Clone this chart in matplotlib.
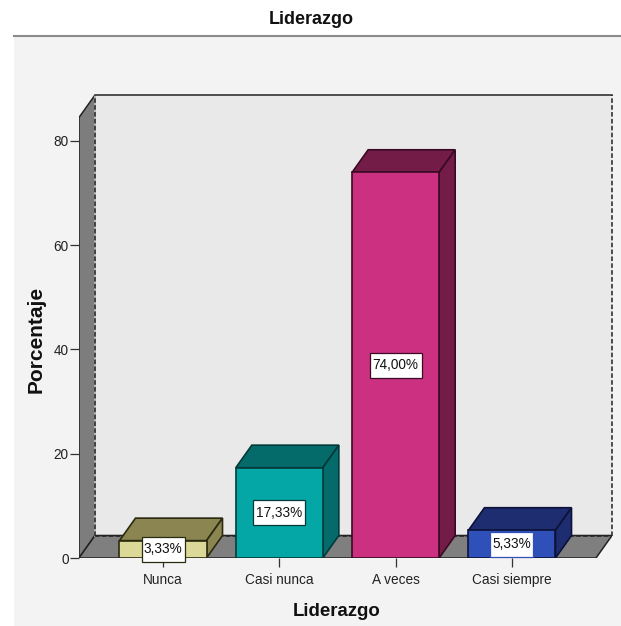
import matplotlib
matplotlib.use("Agg")
import matplotlib.pyplot as plt
from matplotlib.patches import Polygon, Rectangle

plt.rcParams['font.family'] = ['Liberation Sans', 'DejaVu Sans']

categories = ['Nunca', 'Casi nunca', 'A veces', 'Casi siempre']
percentages = [3.33, 17.33, 74.00, 5.33]
y_ticks = [0, 20, 40, 60, 80]
face_colors = ['#dcd898', '#04a6a6', '#cb3081', '#2f4fb9']
shade_colors = ['#8b8552', '#046a6a', '#741c48', '#1e2c70']
edge_colors = ['#2a2a10', '#023a3a', '#3a0a24', '#0c1238']
box_edges = ['#2a2a10', '#023a3a', '#3a0a24', '#2f4fb9']

W, H = 621, 626
fig = plt.figure(figsize=(W / 100, H / 100), dpi=100, facecolor='white')

# grey panel under the header rule
fig.add_artist(Rectangle((14 / W, 0), 1 - 14 / W, 1 - 36 / H, transform=fig.transFigure,
                         facecolor='#f3f3f3', edgecolor='none', zorder=-2))
fig.add_artist(plt.Line2D([14 / W, 1], [1 - 35.5 / H] * 2, color='#8a8a8a', lw=1.5, zorder=-1))
fig.text(311.5 / W, 1 - 19 / H, 'Liderazgo', ha='center', va='center', fontsize=13,
         fontweight='bold', color='#111111')

# axes box runs from the front floor corner to the back wall top corner
left, right, bottom, top = 79, 612, 558, 95
ax = fig.add_axes([left / W, 1 - bottom / H, (right - left) / W, (bottom - top) / H])
ax.patch.set_visible(False)
px_per_cat = 116.33
px_per_pct = 5.2125
ax.set_xlim((left - 163) / px_per_cat, (right - 163) / px_per_cat)
ax.set_ylim(0, (bottom - top) / px_per_pct)

# depth of the 3D projection, in data units
dx = 16 / px_per_cat
dy = 22.5 / px_per_pct
bar_w = 0.748
x0, x1 = ax.get_xlim()
y1 = ax.get_ylim()[1]
floor_right = x1 - dx
line_c = '#222222'

ax.add_patch(Polygon([(x0 + dx, dy), (x1, dy), (x1, y1), (x0 + dx, y1)], facecolor='#e9e9e9',
                     edgecolor='none', zorder=1))
ax.add_patch(Polygon([(x0, 0), (x0 + dx, dy), (x0 + dx, y1), (x0, y1 - dy)], facecolor='#7d7d7d',
                     edgecolor=line_c, lw=1.1, zorder=1.2))
ax.add_patch(Polygon([(x0, 0), (floor_right, 0), (x1, dy), (x0 + dx, dy)], facecolor='#7f7f7f',
                     edgecolor=line_c, lw=1.1, zorder=1.2))
ax.plot([x0 + dx, x1], [y1, y1], color=line_c, lw=1.1, zorder=1.3, clip_on=False)
ax.plot([x0 + dx, x0 + dx], [dy, y1], color='#dddddd', lw=1.1, zorder=1.3)
ax.plot([x0 + dx, x0 + dx], [dy, y1], color=line_c, lw=1.1, ls=(0, (3, 1.5)), zorder=1.31)
ax.plot([x1, x1], [dy, y1], color=line_c, lw=1.1, ls=(0, (3, 1.5)), zorder=1.3, clip_on=False)
ax.plot([x0 + dx, x1], [dy, dy], color=line_c, lw=1.1, ls=(0, (3, 1.5)), zorder=1.3, clip_on=False)

for i, v in enumerate(percentages):
    a, b = i - bar_w / 2, i + bar_w / 2
    ec = edge_colors[i]
    ax.add_patch(Polygon([(a, v), (b, v), (b + dx, v + dy), (a + dx, v + dy)],
                         facecolor=shade_colors[i], edgecolor=ec, lw=1.2, zorder=3))
    ax.add_patch(Polygon([(b, 0), (b + dx, dy), (b + dx, v + dy), (b, v)],
                         facecolor=shade_colors[i], edgecolor=ec, lw=1.2, zorder=3))
    ax.add_patch(Rectangle((a, 0), bar_w, v, facecolor=face_colors[i], edgecolor=ec, lw=1.2, zorder=3.1))

    # white value box centred on the front face, sized to the label length
    label = f'{v:.2f}%'.replace('.', ',')
    box_w = (9 * len(label) - 2) / px_per_cat
    box_h = 25 / px_per_pct
    ax.add_patch(Rectangle((i - box_w / 2, v / 2 - box_h / 2), box_w, box_h, facecolor='white',
                           edgecolor=box_edges[i], lw=0.9, zorder=4.9, clip_on=False))
    ax.text(i, v / 2, label, ha='center', va='center', fontsize=9.8,
            color='#111111', zorder=5, clip_on=False)

for side in ax.spines.values():
    side.set_visible(False)
ax.set_xticks(range(len(categories)), categories)
ax.set_yticks(y_ticks)
ax.tick_params(axis='both', length=6.5, width=0.9, color='#333333', labelsize=9.8,
               labelcolor='#222222')
ax.tick_params(axis='x', pad=4)
ax.tick_params(axis='y', pad=1)
ax.set_axisbelow(False)
for t in ax.xaxis.get_major_ticks() + ax.yaxis.get_major_ticks():
    t.set_zorder(2)

fig.text(36 / W, 1 - 339 / H, 'Porcentaje', rotation=90, ha='center', va='center',
         fontsize=15, fontweight='bold', color='#111111')
fig.text(337 / W, 1 - 611 / H, 'Liderazgo', ha='center', va='center',
         fontsize=13.4, fontweight='bold', color='#111111')

fig.savefig('out.png', dpi=100, facecolor=fig.get_facecolor())
